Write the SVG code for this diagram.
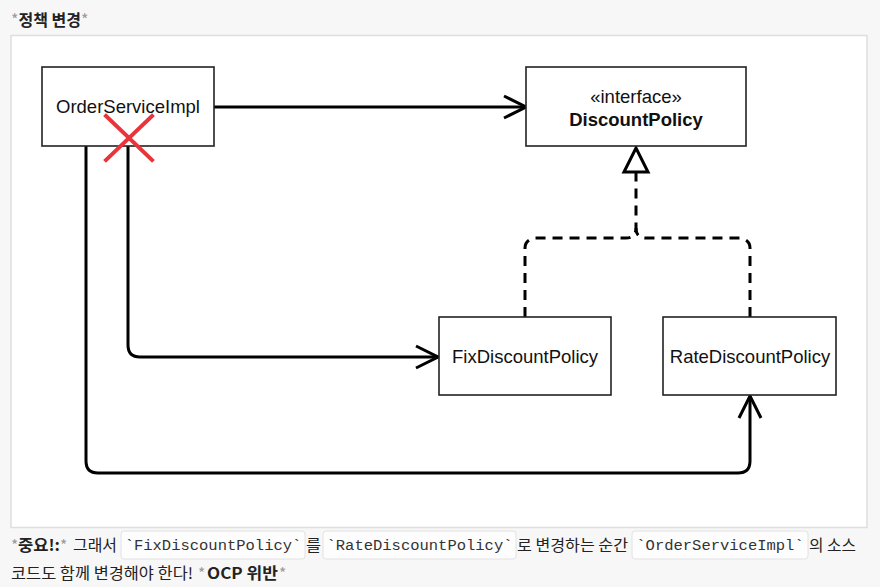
<svg xmlns="http://www.w3.org/2000/svg" width="880" height="587" viewBox="0 0 880 587">
<style>
.box{fill:#fff;stroke:#222;stroke-width:1.6}
.lbl{font-family:"Liberation Sans",Arial,sans-serif;font-size:18.5px;fill:#111;text-anchor:middle}
.b{font-weight:bold}
.conn{fill:none;stroke:#000;stroke-width:3}
.dash{fill:none;stroke:#000;stroke-width:3;stroke-dasharray:10 7}
.kr{font-family:"Noto Sans CJK KR","Noto Sans",sans-serif;font-size:15.5px;fill:#222}
.ast{fill:#999;font-weight:normal}
.code{font-family:"Liberation Mono","DejaVu Sans Mono",monospace;font-size:15.5px;fill:#333;text-anchor:middle}
.cbox{fill:#fdfdfd;stroke:#e2e2e2;stroke-width:1}
</style>
<defs>
<marker id="open" viewBox="-2 -2 28 28" refX="23" refY="12" markerWidth="28" markerHeight="28" markerUnits="userSpaceOnUse" orient="auto">
<path d="M1,1 L23,12 L1,23" fill="none" stroke="#000" stroke-width="3"/>
</marker>
<marker id="tri" viewBox="-3 -3 30 30" refX="0" refY="12" markerWidth="30" markerHeight="30" markerUnits="userSpaceOnUse" orient="auto">
<path d="M0,0 L24,12 L0,24 Z" fill="#fff" stroke="#000" stroke-width="3"/>
</marker>
</defs>
<rect x="0" y="0" width="880" height="587" fill="#f7f7f7"/>
<text class="kr" x="11" y="26" style="font-size:16px;font-weight:bold"><tspan class="ast">*</tspan>정책 변경<tspan class="ast">*</tspan></text>
<rect x="11" y="35.5" width="856" height="492" fill="#fff" stroke="#dedede" stroke-width="1.5"/>

<g id="connectors">
<path class="conn" d="M214,107 H526" marker-end="url(#open)"/>
<path class="conn" d="M128,146 V345 Q128,357 140,357 H438" marker-end="url(#open)"/>
<path class="conn" d="M86,146 V461 Q86,473 98,473 H738 Q750,473 750,461 V396" marker-end="url(#open)"/>
<path class="dash" d="M525,317 V248 Q525,240 535,238 H626 Q636,238 636,228 V172" marker-end="url(#tri)"/>
<path class="dash" d="M750,317 V248 Q750,240 740,238 H646 Q636,238 636,228"/>
</g>

<g id="orderServiceImpl">
<rect class="box" x="42" y="67" width="172" height="79"/>
<text class="lbl" x="128" y="113">OrderServiceImpl</text>
</g>
<g id="discountPolicy">
<rect class="box" x="526" y="67" width="220" height="79"/>
<text class="lbl" x="636" y="103">«interface»</text>
<text class="lbl b" x="636" y="126">DiscountPolicy</text>
</g>
<g id="fixDiscountPolicy">
<rect class="box" x="439" y="317" width="172" height="78"/>
<text class="lbl" x="525" y="363">FixDiscountPolicy</text>
</g>
<g id="rateDiscountPolicy">
<rect class="box" x="663" y="317" width="173" height="78"/>
<text class="lbl" x="750" y="363">RateDiscountPolicy</text>
</g>
<g id="redX" stroke="#e8343a" stroke-width="4" stroke-linecap="square">
<line x1="106" y1="116" x2="152" y2="160"/>
<line x1="152" y1="116" x2="106" y2="160"/>
</g>

<g id="note">
<rect class="cbox" x="121" y="531" width="184" height="28" rx="3"/>
<rect class="cbox" x="323" y="531" width="193" height="28" rx="3"/>
<rect class="cbox" x="632" y="531" width="176" height="28" rx="3"/>
<text class="kr ast" x="11" y="551">*</text>
<text class="kr b" x="18" y="551" textLength="42" lengthAdjust="spacingAndGlyphs">중요!:</text>
<text class="kr ast" x="60" y="551">*</text>
<text class="kr" x="73" y="551" textLength="44" lengthAdjust="spacingAndGlyphs">그래서</text>
<text class="code" x="213" y="550">`FixDiscountPolicy`</text>
<text class="kr" x="306" y="551" textLength="15" lengthAdjust="spacingAndGlyphs">를</text>
<text class="code" x="419.5" y="550">`RateDiscountPolicy`</text>
<text class="kr" x="517" y="551" textLength="111" lengthAdjust="spacingAndGlyphs">로 변경하는 순간</text>
<text class="code" x="720" y="550">`OrderServiceImpl`</text>
<text class="kr" x="809" y="551" textLength="47" lengthAdjust="spacingAndGlyphs">의 소스</text>
<text class="kr" x="11" y="579" textLength="182" lengthAdjust="spacingAndGlyphs">코드도 함께 변경해야 한다!</text>
<text class="kr ast" x="198" y="579">*</text>
<text class="kr b" x="207" y="579" textLength="71" lengthAdjust="spacingAndGlyphs">OCP 위반</text>
<text class="kr ast" x="279" y="579">*</text>
</g>
</svg>
